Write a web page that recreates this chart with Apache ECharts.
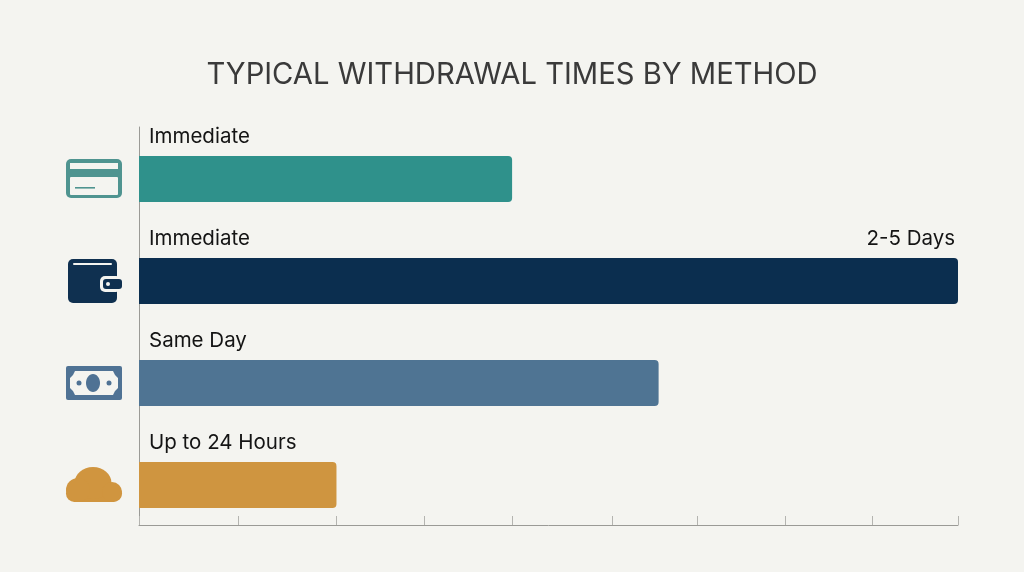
<!DOCTYPE html>
<html>
<head>
<meta charset="utf-8">
<title>Typical withdrawal times by method</title>
<style>
html, body { margin: 0; padding: 0; background: #f4f4f0; }
#main { width: 1024px; height: 572px; }
</style>
<script src="https://cdn.jsdelivr.net/npm/echarts@6/dist/echarts.min.js"></script>
</head>
<body>
<div id="main"></div>
<script>
var chart = echarts.init(document.getElementById('main'));

// Values, the axis has no printed numbers so units are its tick steps
var methods = ['Card', 'Wallet', 'Cash', 'Cloud'];
var durations = [4.1, 9, 5.71, 2.17];
var startLabels = ['Immediate', 'Immediate', 'Same Day', 'Up to 24 Hours'];
var endLabels = ['', '2-5 Days', '', ''];
var tickValues = [0, 1.09, 2.17, 3.13, 4.1, 5.2, 6.13, 7.1, 8.06, 9];
var axisMax = 9;

var barColors = ['#2f918b', '#0b2e4f', '#4f7493', '#cf9540'];
var iconColors = ['#4f9490', '#0f3050', '#4f7294', '#d0953f'];
var bgColor = '#f4f4f0';

const FONT = 'Inter';

function rect(x, y, w, h, r, fill) {
    return { type: 'rect', shape: { x: x, y: y, width: w, height: h, r: r }, style: { fill: fill } };
}
function circle(cx, cy, r, fill) {
    return { type: 'circle', shape: { cx: cx, cy: cy, r: r }, style: { fill: fill } };
}
function ellipse(cx, cy, rx, ry, fill) {
    return { type: 'ellipse', shape: { cx: cx, cy: cy, rx: rx, ry: ry }, style: { fill: fill } };
}

// Icons are drawn in a local box, x from 0 to 56, y around the bar's centre
var iconShapes = [
    function (c) {
        return [
            rect(0, -20, 56, 39, 5, c),
            rect(4, -16, 48, 6, 0, bgColor),
            rect(4, -2, 48, 18, 1, bgColor),
            rect(9, 8, 20, 1.6, 0, c)
        ];
    },
    function (c) {
        return [
            rect(2, -22, 49, 44, 5, c),
            rect(7, -18, 39, 2, 1, bgColor),
            rect(34, -5, 21, 16, 5, bgColor),
            rect(37, -2, 19, 10, 3, c),
            circle(42, 3, 2, bgColor)
        ];
    },
    function (c) {
        return [
            rect(0, -17, 56, 34, 2, c),
            {
                type: 'polygon',
                shape: { points: [[9, -12], [47, -12], [49, -8], [52, -5], [52, 5], [49, 8], [47, 12], [9, 12], [7, 8], [4, 5], [4, -5], [7, -8]] },
                style: { fill: bgColor }
            },
            ellipse(27, 0, 7, 9, c),
            circle(13, 0, 2.5, c),
            circle(43, 0, 2.5, c)
        ];
    },
    function (c) {
        return [
            rect(0, 0, 56, 17, 8.5, c),
            ellipse(27, -2, 18.5, 16, c),
            circle(12, 5, 12, c),
            circle(46, 7, 10, c)
        ];
    }
];

function renderIcon(params, api) {
    var i = params.dataIndex;
    var p = api.coord([0, i]);
    return {
        type: 'group',
        x: p[0] - 73,
        y: p[1],
        children: iconShapes[i](iconColors[i])
    };
}

function renderLabels(params, api) {
    var i = params.dataIndex;
    var start = api.coord([0, i]);
    var end = api.coord([durations[i], i]);
    var textStyle = { fontFamily: FONT, fontSize: 20.5, fill: '#141414', textVerticalAlign: 'middle' };
    return {
        type: 'group',
        children: [
            { type: 'text', x: start[0] + 10, y: start[1] - 42, style: Object.assign({ text: startLabels[i], textAlign: 'left' }, textStyle) },
            { type: 'text', x: end[0] - 3, y: end[1] - 42, style: Object.assign({ text: endLabels[i], textAlign: 'right' }, textStyle) }
        ]
    };
}

var option = {
    backgroundColor: bgColor,
    animation: false,
    title: {
        text: 'TYPICAL WITHDRAWAL TIMES BY METHOD',
        left: 'center',
        top: 56,
        textStyle: { fontFamily: FONT, fontSize: 29.2, fontWeight: 'normal', color: '#3a3a3a' }
    },
    // first grid holds the bars, second one only the visible axes
    grid: [
        { left: 139, right: 66, top: 128, height: 408 },
        { left: 139, right: 66, top: 127, bottom: 47 }
    ],
    xAxis: [
        { type: 'value', gridIndex: 0, min: 0, max: axisMax, show: false },
        {
            type: 'value', gridIndex: 1, min: 0, max: axisMax,
            axisLine: { show: true, lineStyle: { color: '#9a9a96', width: 1 } },
            axisTick: { show: true, inside: true, length: 9, customValues: tickValues, lineStyle: { color: '#b4b4b0', width: 1 } },
            axisLabel: { show: false },
            splitLine: { show: false }
        }
    ],
    yAxis: [
        { type: 'category', gridIndex: 0, data: methods, inverse: true, show: false },
        {
            type: 'value', gridIndex: 1, min: 0, max: 1,
            axisLine: { show: true, lineStyle: { color: '#9a9a96', width: 1 } },
            axisTick: { show: false },
            axisLabel: { show: false },
            splitLine: { show: false }
        }
    ],
    series: [
        {
            name: 'Withdrawal time',
            type: 'bar',
            xAxisIndex: 0,
            yAxisIndex: 0,
            barWidth: 46,
            data: durations.map(function (v, i) {
                return { value: v, itemStyle: { color: barColors[i], borderRadius: [0, 4, 4, 0] } };
            })
        },
        {
            type: 'custom',
            xAxisIndex: 0,
            yAxisIndex: 0,
            clip: false,
            silent: true,
            renderItem: renderIcon,
            data: durations.map(function (v, i) { return [v, i]; })
        },
        {
            type: 'custom',
            xAxisIndex: 0,
            yAxisIndex: 0,
            clip: false,
            silent: true,
            renderItem: renderLabels,
            data: durations.map(function (v, i) { return [v, i]; })
        },
        // keeps the empty axes of the second grid alive
        { type: 'line', xAxisIndex: 1, yAxisIndex: 1, data: [], silent: true }
    ]
};

chart.setOption(option);
</script>
</body>
</html>
